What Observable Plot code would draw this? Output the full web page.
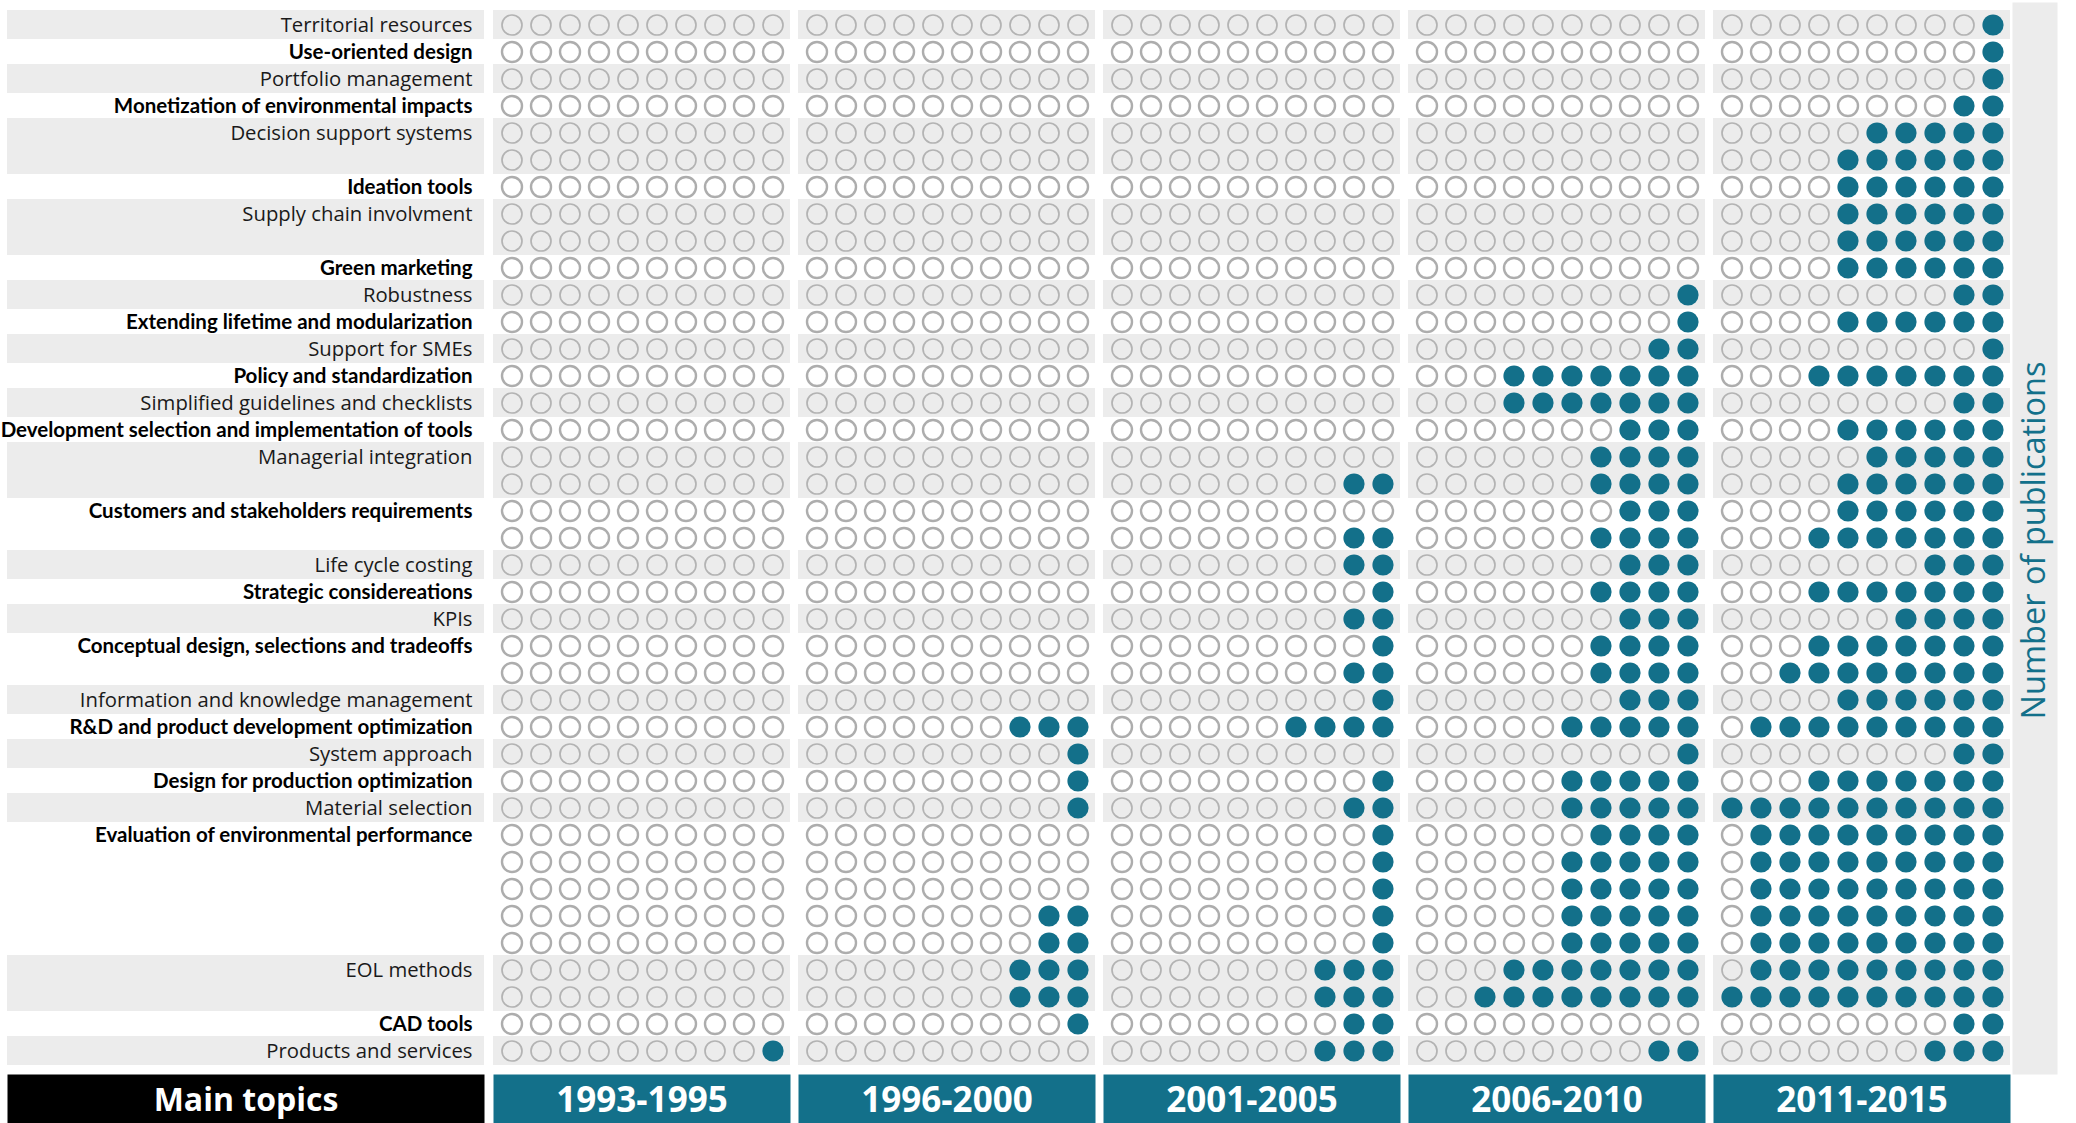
<!DOCTYPE html>
<html>
<head>
<meta charset="utf-8">
<script src="https://cdn.jsdelivr.net/npm/d3@7"></script>
<script src="https://cdn.jsdelivr.net/npm/@observablehq/plot@0.6"></script>
<style>
  html, body { margin: 0; padding: 0; background: #ffffff; }
  #root { width: 2076px; height: 1123px; overflow: hidden; font-family: "Open Sans", sans-serif; }
  .row { display: flex; flex-direction: row; }
  svg { display: block; }
</style>
</head>
<body>
<div id="root">
  <div class="row" id="body"></div>
  <div class="row" id="head"></div>
</div>
<script>
// ---------------- data ----------------
const periods = ["1993-1995", "1996-2000", "2001-2005", "2006-2010", "2011-2015"];

const topics = [
  "Territorial resources",
  "Use-oriented design",
  "Portfolio management",
  "Monetization of environmental impacts",
  "Decision support systems",
  "Ideation tools",
  "Supply chain involvment",
  "Green marketing",
  "Robustness",
  "Extending lifetime and modularization",
  "Support for SMEs",
  "Policy and standardization",
  "Simplified guidelines and checklists",
  "Development selection and implementation of tools",
  "Managerial integration",
  "Customers and stakeholders requirements",
  "Life cycle costing",
  "Strategic considereations",
  "KPIs",
  "Conceptual design, selections and tradeoffs",
  "Information and knowledge management",
  "R&D and product development optimization",
  "System approach",
  "Design for production optimization",
  "Material selection",
  "Evaluation of environmental performance",
  "EOL methods",
  "CAD tools",
  "Products and services"
];

// number of dot lines used by each topic
const rowsPerTopic = [1,1,1,1,2,1,2,1,1,1,1,1,1,1,2,2,1,1,1,2,1,1,1,1,1,5,2,1,1];

// filled dots (out of 10) in each of the 39 dot lines, per period
const filled1993 = [0,0,0,0,0,0,0,0,0,0, 0,0,0,0,0,0,0,0,0,0, 0,0,0,0,0,0,0,0,0,0, 0,0,0,0,0,0,0,0,1];
const filled1996 = [0,0,0,0,0,0,0,0,0,0, 0,0,0,0,0,0,0,0,0,0, 0,0,0,0,0,0,3,1,1,1, 0,0,0,2,2,3,3,1,0];
const filled2001 = [0,0,0,0,0,0,0,0,0,0, 0,0,0,0,0,0,0,2,0,2, 2,1,2,1,2,1,4,0,1,2, 1,1,1,1,1,3,3,2,3];
const filled2006 = [0,0,0,0,0,0,0,0,0,0, 1,1,2,7,7,3,4,4,3,4, 3,4,3,4,4,3,5,1,5,5, 4,5,5,5,5,7,8,0,2];
const filled2011 = [1,1,1,2,5,6,6,6,6,6, 2,6,1,7,2,6,5,6,6,7, 3,7,4,7,8,6,9,2,7,10, 9,9,9,9,9,9,10,2,3];
const filledByPeriod = [filled1993, filled1996, filled2001, filled2006, filled2011];

const axisTitle = "Number of publications";
const headerTitle = "Main topics";

// ---------------- derived tables ----------------
const lines = [];      // one entry per dot line
const topicRows = [];  // one entry per topic (its first line)
{
  let r = 1;
  topics.forEach((t, i) => {
    topicRows.push({topic: t, row: r, shaded: i % 2 === 0});
    for (let k = 0; k < rowsPerTopic[i]; k++) {
      lines.push({row: r, topicIndex: i, shaded: i % 2 === 0});
      r++;
    }
  });
}
const rowDomain = lines.map(d => d.row);
const colDomain = [1,2,3,4,5,6,7,8,9,10];

const dots = [];
periods.forEach((p, pi) => {
  lines.forEach((ln, li) => {
    const n = filledByPeriod[pi][li];
    colDomain.forEach(c => {
      dots.push({period: p, row: ln.row, col: c, filled: c > colDomain.length - n, shaded: ln.shaded});
    });
  });
});

// ---------------- style ----------------
const TEAL = "#13708a";
const BAND = "#ececec";
const RING = "#b3b3b3";
const FONT = "Open Sans";
const BOLD_FONT = "Lato";
const H_BODY = 1074, H_HEAD = 49;
const yScale = {type: "band", domain: rowDomain, padding: 0, axis: null};
const M_TOP = 3, M_BOTTOM = 2;
const BAND_INSET = -1;

// ---------------- label column ----------------
const labels = Plot.plot({
  width: 489, height: H_BODY,
  marginLeft: 7, marginRight: 5, marginTop: M_TOP, marginBottom: M_BOTTOM,
  style: {fontFamily: FONT, background: "white", overflow: "visible"},
  y: yScale,
  marks: [
    Plot.cell(lines.filter(d => d.shaded), {y: "row", fill: BAND, insetTop: BAND_INSET, insetBottom: BAND_INSET}),
    Plot.text(topicRows.filter(d => d.shaded), {y: "row", text: "topic", frameAnchor: "right", textAnchor: "end", dx: -12, fontSize: 20.3, fill: "#1a1a1a"}),
    Plot.text(topicRows.filter(d => !d.shaded), {y: "row", text: "topic", frameAnchor: "right", textAnchor: "end", dx: -12, fontSize: 20.5, fontWeight: "bold", fontFamily: BOLD_FONT, fill: "#000"})
  ]
});

// ---------------- dot panels ----------------
const panelOpts = {
  width: 1523, marginLeft: 3, marginRight: 0
};
const fxScale = {domain: periods, paddingInner: 0.026, paddingOuter: 0, axis: null};

const grid = Plot.plot({
  ...panelOpts, height: H_BODY, marginTop: M_TOP, marginBottom: M_BOTTOM,
  style: {fontFamily: FONT, background: "white", overflow: "visible"},
  fx: fxScale,
  x: {type: "band", domain: colDomain, padding: 0, axis: null},
  y: yScale,
  marks: [
    Plot.cell(lines.filter(d => d.shaded), {y: "row", fill: BAND, insetTop: BAND_INSET, insetBottom: BAND_INSET}),
    Plot.dot(dots.filter(d => !d.filled && d.shaded), {fx: "period", x: "col", y: "row", r: 10, stroke: RING, strokeWidth: 1.7, fill: "none"}),
    Plot.dot(dots.filter(d => !d.filled && !d.shaded), {fx: "period", x: "col", y: "row", r: 10, stroke: "#adadad", strokeWidth: 2.4, fill: "white"}),
    Plot.dot(dots.filter(d => d.filled), {fx: "period", x: "col", y: "row", r: 10.6, fill: TEAL, stroke: "none"})
  ]
});

// ---------------- right strip with axis title ----------------
const strip = Plot.plot({
  width: 45, height: H_BODY, margin: 0,
  style: {fontFamily: FONT, background: "white", overflow: "visible"},
  marks: [
    Plot.frame({fill: BAND, stroke: "none", insetTop: M_TOP + BAND_INSET}),
    Plot.text([axisTitle], {text: d => d, frameAnchor: "middle", rotate: -90, fontSize: 32.5, fill: TEAL, dy: 3})
  ]
});

// ---------------- header row ----------------
const mainHead = Plot.plot({
  width: 489, height: H_HEAD, marginLeft: 7, marginRight: 5, marginTop: 0, marginBottom: 0,
  style: {fontFamily: FONT, background: "white", overflow: "visible"},
  marks: [
    Plot.frame({fill: "#000", stroke: "none"}),
    Plot.text([headerTitle], {text: d => d, frameAnchor: "middle", fill: "white", fontSize: 32, fontWeight: "bold", dy: 2})
  ]
});

const periodHead = Plot.plot({
  ...panelOpts, height: H_HEAD, marginTop: 0, marginBottom: 0,
  style: {fontFamily: FONT, background: "white", overflow: "visible"},
  fx: fxScale,
  marks: [
    Plot.frame({fill: TEAL, stroke: "none"}),
    Plot.text(periods, {fx: d => d, text: d => d, frameAnchor: "middle", fill: "white", fontSize: 35, fontWeight: "bold", dy: 2})
  ]
});

document.getElementById("body").append(labels, grid, strip);
document.getElementById("head").append(mainHead, periodHead);
</script>
</body>
</html>
